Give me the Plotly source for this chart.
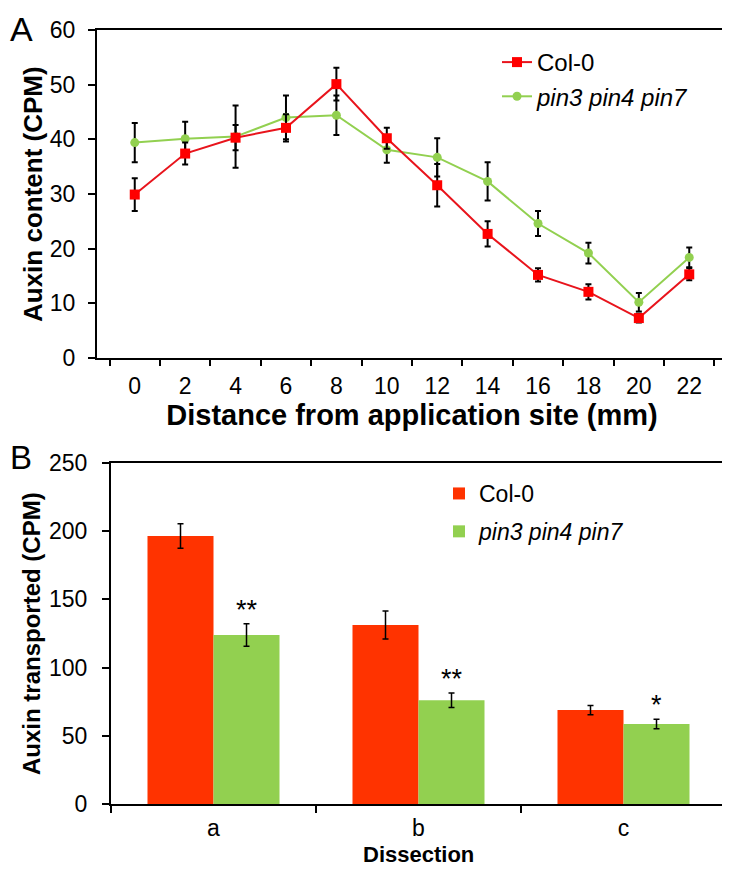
import plotly.graph_objects as go

# ---------- Panel A data ----------
distance = ["0", "2", "4", "6", "8", "10", "12", "14", "16", "18", "20", "22"]
col0_a = [29.9, 37.4, 40.3, 42.1, 50.1, 40.2, 31.6, 22.7, 15.2, 12.1, 7.3, 15.3]
col0_a_err = [3.0, 2.0, 2.3, 2.5, 3.0, 1.9, 3.9, 2.3, 1.2, 1.4, 0.8, 1.1]
pin_a = [39.4, 40.1, 40.5, 44.0, 44.4, 38.1, 36.7, 32.3, 24.6, 19.2, 10.2, 18.4]
pin_a_err = [3.6, 3.1, 5.7, 4.0, 3.6, 2.4, 3.5, 3.5, 2.3, 1.9, 1.7, 1.8]

# ---------- Panel B data ----------
dissection = ["a", "b", "c"]
col0_b = [196.5, 131.2, 68.9]
col0_b_err = [9.0, 10.3, 3.4]
pin_b = [123.9, 76.0, 58.7]
pin_b_err = [8.2, 5.3, 3.5]
signif = ["**", "**", "*"]

FONT = "Arial, Liberation Sans, sans-serif"
RED_LINE = "#E8141C"
RED_MK = "#FF0000"
GREEN = "#92D050"
RED_BAR = "#FF3300"

W, H = 730, 869
OFF = 8  # page body margin offset
def px_x(v):
    return (v - OFF) / W
def px_y(v):
    return 1 - (v - OFF) / H

fig = go.Figure()

# Panel A traces (green first so red sits on top)
fig.add_trace(go.Scatter(
    x=distance, y=pin_a, name="<i>pin3 pin4 pin7</i>", mode="lines+markers",
    line=dict(color=GREEN, width=2), marker=dict(symbol="circle", size=9, color=GREEN),
    error_y=dict(type="data", array=pin_a_err, color="black", thickness=2, width=3),
    xaxis="x", yaxis="y", legend="legend", legendrank=2))
fig.add_trace(go.Scatter(
    x=distance, y=col0_a, name="Col-0", mode="lines+markers",
    line=dict(color=RED_LINE, width=2), marker=dict(symbol="square", size=10, color=RED_MK),
    error_y=dict(type="data", array=col0_a_err, color="black", thickness=2, width=3),
    xaxis="x", yaxis="y", legend="legend", legendrank=1))

# Panel B traces
fig.add_trace(go.Bar(
    x=dissection, y=col0_b, name="Col-0", marker=dict(color=RED_BAR, line=dict(width=0)),
    error_y=dict(type="data", array=col0_b_err, color="black", thickness=1.5, width=3),
    xaxis="x2", yaxis="y2", legend="legend2", legendgroup="c", offsetgroup="1"))
fig.add_trace(go.Bar(
    x=dissection, y=pin_b, name="<i>pin3 pin4 pin7</i>", marker=dict(color=GREEN, line=dict(width=0)),
    error_y=dict(type="data", array=pin_b_err, color="black", thickness=1.5, width=3),
    xaxis="x2", yaxis="y2", legend="legend2", legendgroup="p", offsetgroup="2"))

# significance stars above green bars
for cat, v, e, s in zip(dissection, pin_b, pin_b_err, signif):
    fig.add_annotation(x=cat, y=v + e, xref="x2", yref="y2", text=s, showarrow=False,
                       xshift=33, yshift=-3, yanchor="bottom",
                       font=dict(family=FONT, size=27, color="black"))

axis_common = dict(showline=True, linecolor="black", linewidth=2, mirror=True,
                   ticks="outside", tickcolor="black", showgrid=False, zeroline=False,
                   automargin=False,
                   tickfont=dict(family=FONT, size=23, color="black"))

fig.update_layout(
    width=W, height=H, margin=dict(l=0, r=0, t=0, b=0, autoexpand=False),
    plot_bgcolor="white", paper_bgcolor="white",
    font=dict(family=FONT, color="black"),
    barmode="group", bargap=0.356, bargroupgap=0,
    xaxis=dict(axis_common, domain=[px_x(97), px_x(727)], anchor="y",
               type="category", tickson="boundaries", ticklen=6, tickwidth=2,
               ticklabelstandoff=6,
               title=dict(text="<b>Distance from application site (mm)</b>",
                          font=dict(family=FONT, size=29), standoff=7)),
    yaxis=dict(axis_common, domain=[px_y(358), px_y(30)], anchor="x",
               range=[0, 60], dtick=10, ticklen=7, tickwidth=2,
               ticklabelstandoff=8),
    xaxis2=dict(axis_common, domain=[px_x(111), px_x(726)], anchor="y2",
                type="category", tickson="boundaries", ticklen=7, tickwidth=2,
                ticklabelstandoff=2,
                tickfont=dict(family=FONT, size=23, color="black")),
    yaxis2=dict(axis_common, domain=[px_y(804), px_y(463)], anchor="x2",
                range=[0, 250], dtick=50, ticklen=7, tickwidth=2,
                ticklabelstandoff=10),
    legend=dict(x=px_x(497), y=px_y(40), xanchor="left", yanchor="top",
                font=dict(family=FONT, size=24, color="black"), bgcolor="rgba(0,0,0,0)",
                itemwidth=30, tracegroupgap=0),
    legend2=dict(x=px_x(439), y=px_y(472), xanchor="left", yanchor="top",
                 font=dict(family=FONT, size=23, color="black"), bgcolor="rgba(0,0,0,0)",
                 itemwidth=30, tracegroupgap=5),
)

# axis titles placed as annotations for precise positioning
fig.add_annotation(text="<b>Auxin content (CPM)</b>", textangle=-90,
                   x=px_x(33), y=px_y(194), xref="paper", yref="paper",
                   xanchor="center", yanchor="middle", showarrow=False,
                   font=dict(family=FONT, size=26, color="black"))
fig.add_annotation(text="<b>Auxin transported (CPM)</b>", textangle=-90,
                   x=px_x(31), y=px_y(634), xref="paper", yref="paper",
                   xanchor="center", yanchor="middle", showarrow=False,
                   font=dict(family=FONT, size=24, color="black"))
fig.add_annotation(text="<b>Dissection</b>",
                   x=0.5, y=px_y(868), xref="x2 domain", yref="paper",
                   xanchor="center", yanchor="bottom", showarrow=False, borderpad=0,
                   font=dict(family=FONT, size=22, color="black"))

# panel letters
fig.add_annotation(text="A", x=px_x(8), y=px_y(8), xref="paper", yref="paper",
                   xanchor="left", yanchor="top", showarrow=False,
                   font=dict(family=FONT, size=34, color="black"))
fig.add_annotation(text="B", x=px_x(8), y=px_y(457), xref="paper", yref="paper",
                   xanchor="left", yanchor="middle", showarrow=False,
                   font=dict(family=FONT, size=33, color="black"))

fig.write_html("out.html")
